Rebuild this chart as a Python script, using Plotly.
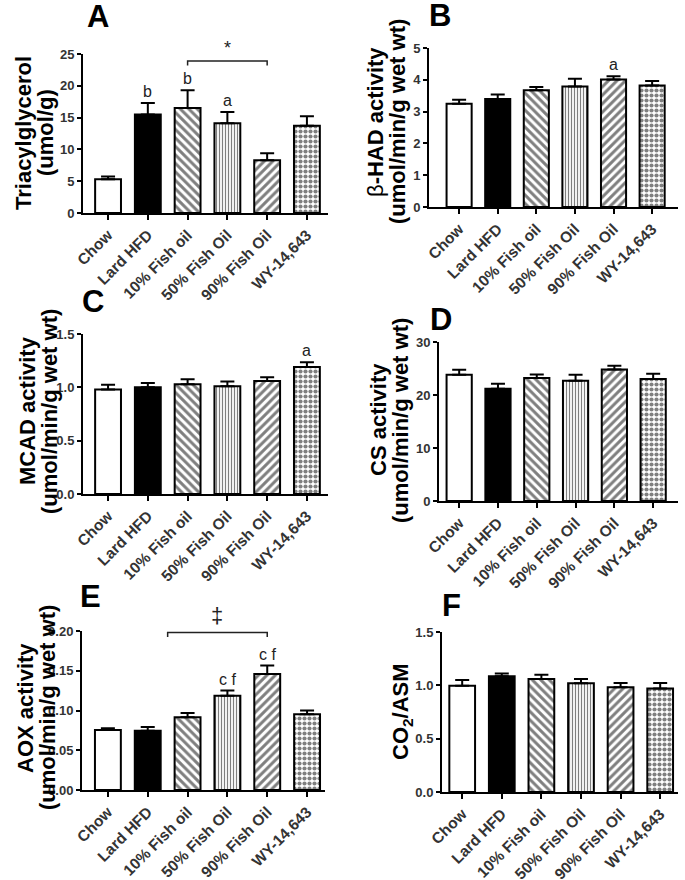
import plotly.graph_objects as go

categories = ["Chow", "Lard HFD", "10% Fish oil", "50% Fish Oil", "90% Fish Oil", "WY-14,643"]

# A - triacylglycerol
tag_mean = [5.3, 15.5, 16.5, 14.1, 8.3, 13.7]
tag_sem = [0.45, 1.8, 2.8, 1.8, 1.1, 1.5]
tag_labels = ["", "b", "b", "a", "", ""]

# B - beta-HAD
bhad_mean = [3.25, 3.40, 3.67, 3.79, 4.01, 3.82]
bhad_sem = [0.12, 0.14, 0.10, 0.24, 0.10, 0.14]
bhad_labels = ["", "", "", "", "a", ""]

# C - MCAD
mcad_mean = [0.98, 1.00, 1.03, 1.01, 1.06, 1.19]
mcad_sem = [0.045, 0.04, 0.045, 0.045, 0.035, 0.045]
mcad_labels = ["", "", "", "", "", "a"]

# D - CS
cs_mean = [23.8, 21.2, 23.2, 22.7, 24.8, 23.0]
cs_sem = [0.95, 0.9, 0.65, 1.1, 0.7, 1.0]
cs_labels = ["", "", "", "", "", ""]

# E - AOX
aox_mean = [0.0755, 0.0746, 0.0915, 0.1186, 0.146, 0.0952]
aox_sem = [0.0021, 0.0045, 0.0055, 0.0065, 0.0105, 0.0048]
aox_labels = ["", "", "", "c f", "c f", ""]

# F - CO2/ASM
ratio_mean = [0.995, 1.086, 1.06, 1.02, 0.982, 0.97]
ratio_sem = [0.055, 0.025, 0.04, 0.04, 0.04, 0.053]
ratio_labels = ["", "", "", "", "", ""]

W, H = 685, 880
FONT = "Liberation Sans, Arial, sans-serif"
fills = ["white", "black", "white", "white", "white", "white"]
hatch = ["", "", "\\", "|", "/", "."]
hatch_size = [8, 8, 6, 3, 6, 5]
hatch_solid = [0.3, 0.3, 0.5, 0.4, 0.5, 0.55]


def fx(px):
    return px / W


def fy(py):
    return 1 - py / H


# letter, mean, sem, labels, ymax, dtick, fmt, title lines,
# axis box px (left, right, bottom, top), xrange, letter pos, title centre
panels = [
    ("A", tag_mean, tag_sem, tag_labels, 25, 5, "d",
     ["Triacylglycerol", "(umol/g)"],
     (83, 328, 213, 54), [-0.63, 5.53], (98, 17), (34, 133)),
    ("B", bhad_mean, bhad_sem, bhad_labels, 5, 1, "d",
     ["<span style=\"font-weight:normal\">β</span>-HAD activity", "(umol/min/g wet wt)"],
     (429, 678, 207, 48), [-0.78, 5.67], (440, 15), (386, 122)),
    ("C", mcad_mean, mcad_sem, mcad_labels, 1.5, 0.5, ".1f",
     ["MCAD activity", "(umol/min/g wet wt)"],
     (83, 328, 494, 334), [-0.63, 5.53], (93, 301), (38, 411)),
    ("D", cs_mean, cs_sem, cs_labels, 30, 10, "d",
     ["CS activity", "(umol/min/g wet wt)"],
     (439, 678, 501, 342), [-0.52, 5.64], (441, 319), (389, 420)),
    ("E", aox_mean, aox_sem, aox_labels, 0.2, 0.05, ".2f",
     ["AOX activity", "(umol/min/g wet wt)"],
     (82, 325, 790, 631), [-0.65, 5.45], (90, 596), (36, 708)),
    ("F", ratio_mean, ratio_sem, ratio_labels, 1.5, 0.5, ".1f",
     ["CO<sub>2</sub>/ASM"],
     (442, 678, 792, 632), [-0.51, 5.45], (452, 605), (402, 712)),
]

fig = go.Figure()
annotations = []
shapes_list = []
layout = {}

for i, (letter, mean, sem, labels, ymax, dtick, fmt, tlines, box, xr, lpos, tpos) in enumerate(panels):
    n = i + 1
    xa = "x" if n == 1 else "x%d" % n
    ya = "y" if n == 1 else "y%d" % n
    for k, c in enumerate(categories):
        marker = dict(color=fills[k], line=dict(color="black", width=2))
        if hatch[k]:
            marker["pattern"] = dict(shape=hatch[k], fgcolor="black", bgcolor="white",
                                     size=hatch_size[k], solidity=hatch_solid[k])
        fig.add_trace(go.Bar(
            x=[c], y=[mean[k]], xaxis=xa, yaxis=ya, width=0.65,
            marker=marker,
            error_y=dict(type="data", array=[sem[k]], arrayminus=[0], symmetric=False,
                         color="black", thickness=2, width=7),
            showlegend=False, hoverinfo="skip",
        ))
        if labels[k]:
            annotations.append(dict(
                x=c, y=mean[k] + sem[k], xref=xa, yref=ya, text=labels[k], showarrow=False,
                xanchor="center", yanchor="bottom", yshift=1,
                font=dict(family=FONT, size=16, color="#222222"),
            ))
    left, right, bottom, top = box
    layout["xaxis" if n == 1 else "xaxis%d" % n] = dict(
        domain=[fx(left), fx(right)], anchor=ya, range=xr,
        categoryorder="array", categoryarray=categories,
        showline=True, linecolor="black", linewidth=2,
        ticks="outside", ticklen=5, tickwidth=2, tickcolor="black",
        tickangle=-45, showgrid=False, zeroline=False,
        tickfont=dict(family=FONT, size=15.5, color="#333333", weight="bold"),
    )
    layout["yaxis" if n == 1 else "yaxis%d" % n] = dict(
        domain=[fy(bottom), fy(top)], anchor=xa, range=[0, ymax],
        dtick=dtick, tickformat=fmt,
        showline=True, linecolor="black", linewidth=2,
        ticks="outside", ticklen=4, tickwidth=2, tickcolor="black",
        showgrid=False, zeroline=False,
        tickfont=dict(family=FONT, size=13, color="#333333", weight="bold"),
    )
    annotations.append(dict(
        x=fx(lpos[0]), y=fy(lpos[1]), xref="paper", yref="paper",
        text=letter, showarrow=False, xanchor="center", yanchor="middle",
        font=dict(family=FONT, size=31, color="black", weight="bold"),
    ))
    # y titles, one annotation per line, lines 22 px apart
    off = (len(tlines) - 1) / 2
    for j, t in enumerate(tlines):
        annotations.append(dict(
            x=fx(tpos[0] + (j - off) * 22), y=fy(tpos[1]), xref="paper", yref="paper",
            text=t, showarrow=False, xanchor="center", yanchor="middle",
            textangle=-90,
            font=dict(family=FONT, size=22, color="black", weight="bold"),
        ))

# significance brackets: (panel, x0, x1, height, drop, symbol height, symbol)
brackets = [
    (1, 2, 4, 23.9, 0.7, 25.9, "*"),
    (5, 1.5, 4, 0.198, 0.0055, 0.219, "‡"),
]
for n, x0, x1, yb, drop, ys, sym in brackets:
    xa = "x" if n == 1 else "x%d" % n
    ya = "y" if n == 1 else "y%d" % n
    ymax = panels[n - 1][4]
    shapes_list.append(dict(
        type="path", xref=xa, yref=ya,
        path="M %s,%s L %s,%s L %s,%s L %s,%s" % (x0, yb - drop, x0, yb, x1, yb, x1, yb - drop),
        line=dict(color="#222222", width=1.5),
    ))
    annotations.append(dict(
        x=(x0 + x1) / 2, y=ys / ymax, xref=xa, yref=ya + " domain", text=sym, showarrow=False,
        xanchor="center", yanchor="middle",
        font=dict(family=FONT, size=18 if sym == "*" else 22, color="#222222"),
    ))

fig.update_layout(
    width=W, height=H, margin=dict(l=0, r=0, t=0, b=0, autoexpand=False),
    paper_bgcolor="white", plot_bgcolor="white", barmode="overlay",
    annotations=annotations, shapes=shapes_list,
    **layout,
)

# the page body has a default 8px margin; drop it so the figure sits at 0,0
fig.write_html("out.html", config={"displayModeBar": False},
               post_script="document.body.style.margin='0';document.body.style.overflow='hidden';")
